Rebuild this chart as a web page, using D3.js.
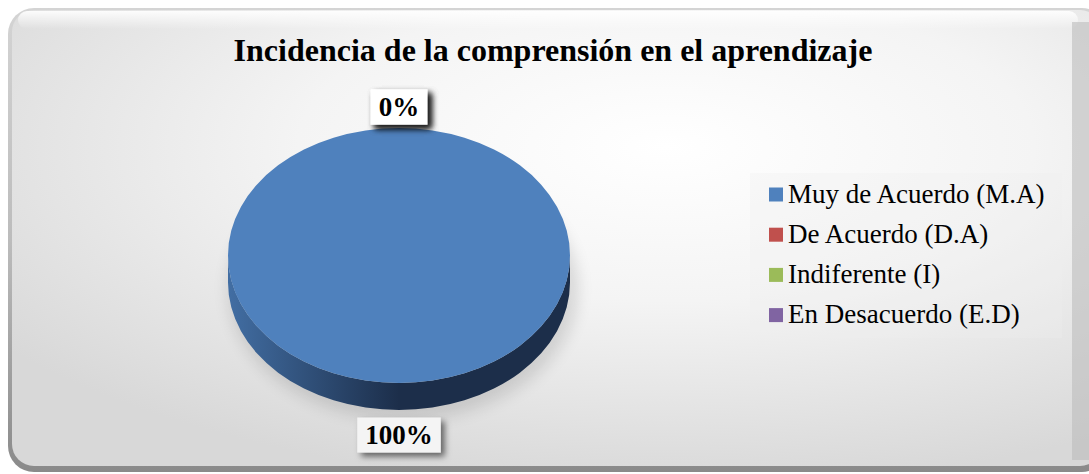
<!DOCTYPE html>
<html><head><meta charset="utf-8">
<script src="https://cdn.jsdelivr.net/npm/d3@7"></script>
<style>html,body{margin:0;padding:0;background:#fff;overflow:hidden}</style>
</head><body>
<svg id="c" width="1089" height="474"></svg>
<script>
const title = "Incidencia de la comprensión en el aprendizaje";
const categories = ["Muy de Acuerdo (M.A)", "De Acuerdo (D.A)", "Indiferente (I)", "En Desacuerdo (E.D)"];
const values = [100, 0, 0, 0];
const labels = ["100%", "0%", "0%", "0%"];
const colors = ["#4F81BD", "#C0504D", "#9BBB59", "#8064A2"];
const sideColors = [["#426ea3", "#1c2e4a"], ["#a03c39", "#5a1f1d"], ["#80a044", "#4a6023"], ["#66508a", "#3a2c50"]];

const FONT = "'Liberation Serif', 'Times New Roman', serif";
const svg = d3.select("#c");
const defs = svg.append("defs");

const bg = defs.append("radialGradient").attr("id", "bg").attr("cx", "0.6").attr("cy", "0.3").attr("r", "0.75");
bg.append("stop").attr("offset", "0").attr("stop-color", "#ffffff");
bg.append("stop").attr("offset", "0.45").attr("stop-color", "#f4f4f4");
bg.append("stop").attr("offset", "1").attr("stop-color", "#d8d8d8");
const frameG = defs.append("linearGradient").attr("id", "frame").attr("x1", 0).attr("y1", 0).attr("x2", 0).attr("y2", 1);
frameG.append("stop").attr("offset", 0).attr("stop-color", "#d4d4d4");
frameG.append("stop").attr("offset", 0.5).attr("stop-color", "#bcbcbc");
frameG.append("stop").attr("offset", 1).attr("stop-color", "#8a8a8a");
const hl = defs.append("linearGradient").attr("id", "hl").attr("x1", 0).attr("y1", 0).attr("x2", 0).attr("y2", 1);
hl.append("stop").attr("offset", 0).attr("stop-color", "#ffffff").attr("stop-opacity", 1);
hl.append("stop").attr("offset", 1).attr("stop-color", "#ffffff").attr("stop-opacity", 0);
const sh = defs.append("filter").attr("id", "sh").attr("x", "-30%").attr("y", "-30%").attr("width", "170%").attr("height", "170%");
sh.append("feDropShadow").attr("dx", 4).attr("dy", 4).attr("stdDeviation", 3).attr("flood-color", "#000").attr("flood-opacity", 0.55);
const psh = defs.append("filter").attr("id", "psh").attr("x", "-20%").attr("y", "-20%").attr("width", "140%").attr("height", "140%");
psh.append("feGaussianBlur").attr("stdDeviation", 8);

svg.append("rect").attr("x", 8).attr("y", 8).attr("width", 1100).attr("height", 464).attr("rx", 26)
  .attr("fill", "url(#frame)");
svg.append("rect").attr("x", 12).attr("y", 10).attr("width", 1090).attr("height", 456).attr("rx", 22)
  .attr("fill", "url(#bg)");
svg.append("rect").attr("x", 18).attr("y", 11).attr("width", 1060).attr("height", 18).attr("rx", 9)
  .attr("fill", "url(#hl)").attr("opacity", 0.9);
svg.append("rect").attr("x", 1072).attr("y", 22).attr("width", 17).attr("height", 438)
  .attr("fill", "#bdbdbd").attr("opacity", 0.6);

svg.append("text").attr("x", 553).attr("y", 61).attr("text-anchor", "middle")
  .attr("font-family", FONT).attr("font-weight", "bold")
  .attr("font-size", 32).attr("fill", "#000").text(title);

const cx = 399, cy = 255.5, rx = 171, ry = 127.5, depth = 27;
const pie = d3.pie().sort(null).value(d => d)(values);
const px = a => cx + rx * Math.sin(a);
const py = a => cy - ry * Math.cos(a);

function topPath(d) {
  const a0 = d.startAngle, a1 = d.endAngle;
  if (a1 - a0 >= 2 * Math.PI - 1e-9) {
    return `M${cx - rx},${cy} A${rx},${ry} 0 1 1 ${cx + rx},${cy} A${rx},${ry} 0 1 1 ${cx - rx},${cy} Z`;
  }
  if (a1 - a0 < 1e-9) return "";
  const large = (a1 - a0) > Math.PI ? 1 : 0;
  return `M${cx},${cy} L${px(a0)},${py(a0)} A${rx},${ry} 0 ${large} 1 ${px(a1)},${py(a1)} Z`;
}
function sidePath(d) {
  const s = Math.max(d.startAngle, Math.PI / 2), e = Math.min(d.endAngle, 3 * Math.PI / 2);
  if (e - s < 1e-9) return "";
  const large = (e - s) > Math.PI ? 1 : 0;
  return `M${px(s)},${py(s)} A${rx},${ry} 0 ${large} 1 ${px(e)},${py(e)} L${px(e)},${py(e) + depth} A${rx},${ry} 0 ${large} 0 ${px(s)},${py(s) + depth} Z`;
}

svg.append("ellipse").attr("cx", cx + 4).attr("cy", cy + depth + 6).attr("rx", rx + 4).attr("ry", ry + 4)
  .attr("fill", "#000").attr("opacity", 0.12).attr("filter", "url(#psh)");

pie.forEach((d, i) => {
  const g = defs.append("linearGradient").attr("id", "side" + i).attr("gradientUnits", "userSpaceOnUse")
    .attr("x1", cx - rx).attr("y1", 0).attr("x2", cx + rx).attr("y2", 0);
  g.append("stop").attr("offset", 0).attr("stop-color", sideColors[i][0]);
  g.append("stop").attr("offset", 0.5).attr("stop-color", sideColors[i][1]);
  g.append("stop").attr("offset", 1).attr("stop-color", sideColors[i][1]);
});
svg.append("g").selectAll("path").data(pie).join("path")
  .attr("d", sidePath).attr("fill", (d, i) => `url(#side${i})`);
svg.append("g").selectAll("path").data(pie).join("path")
  .attr("d", topPath).attr("fill", (d, i) => colors[i]);

const lg = svg.append("g");
pie.forEach((d, i) => {
  const a = (d.startAngle + d.endAngle) / 2;
  const lx = cx + (rx + 21) * Math.sin(a);
  const ly = cy - (ry + 21) * Math.cos(a) + (Math.cos(a) < 0 ? depth + 4 : 0);
  const g = lg.append("g").attr("transform", `translate(${lx},${ly})`);
  const rect = g.append("rect");
  const t = g.append("text").attr("text-anchor", "middle").attr("dy", "0.35em")
    .attr("font-family", FONT).attr("font-weight", "bold")
    .attr("font-size", 27).attr("fill", "#000").text(labels[i]);
  const w = t.node().getComputedTextLength() + 16, h = 35;
  rect.attr("x", -w / 2).attr("y", -h / 2).attr("width", w).attr("height", h)
    .attr("fill", i === 0 ? "#f4f4f4" : "#ffffff").attr("filter", "url(#sh)");
});

svg.append("rect").attr("x", 750).attr("y", 173).attr("width", 312).attr("height", 165).attr("fill", "#f0f0f0").attr("opacity", 0.3);
const leg = svg.append("g").attr("transform", "translate(769,0)");
const ly0 = 194.5, lstep = 40.2;
categories.forEach((c, i) => {
  const yc = ly0 + i * lstep;
  leg.append("rect").attr("x", 0).attr("y", yc - 7).attr("width", 14).attr("height", 14).attr("fill", colors[i]);
  leg.append("text").attr("x", 19).attr("y", yc + 8)
    .attr("font-family", FONT).attr("font-size", 27)
    .attr("fill", "#000").text(c);
});
</script>
</body></html>
